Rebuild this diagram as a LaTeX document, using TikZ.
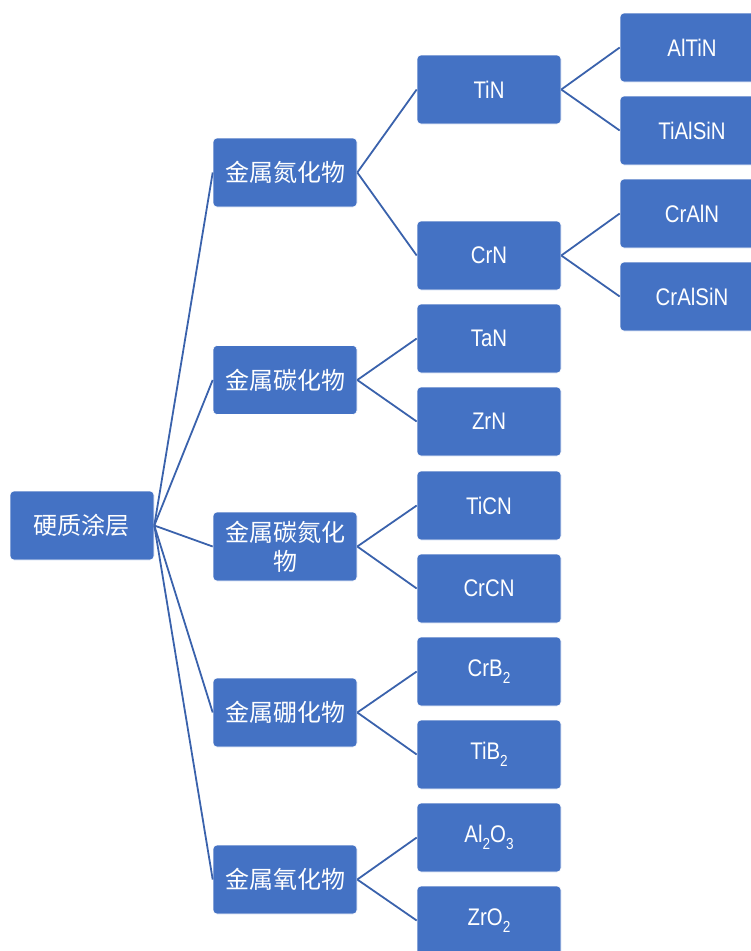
\documentclass[tikz,border=0pt]{standalone}
\usepackage{fontspec}
\setmainfont{Noto Sans CJK SC}
\newfontfamily\narrowfont[FakeStretch=0.85]{Liberation Sans}
\newcommand{\lowsub}[1]{\raisebox{-0.28em}{\fontsize{16}{16}\selectfont #1}}
\definecolor{boxblue}{HTML}{4472C4}
\definecolor{edgeblue}{HTML}{3A62AC}
\begin{document}
\begin{tikzpicture}[x=1pt,y=-1pt,
  boxnode/.style={fill=boxblue, draw=white, line width=0.6pt, rounded corners=4pt,
    minimum width=144pt, minimum height=69pt, inner sep=0pt, text=white,
    align=center, font=\fontsize{24}{29}\selectfont},
  latinnode/.style={boxnode, font=\fontsize{24}{29}\selectfont\narrowfont},
  link/.style={draw=edgeblue, line width=1.8pt}]
\useasboundingbox (0,0) rectangle (751,951);
% connectors first so that boxes cover their ends
\coordinate (rootE) at (154,525.5);
% level 0
\node[boxnode] (root) at (82,525.5) {硬质涂层};
% level 1
\node[boxnode] (n1) at (285,172.5) {金属氮化物};
\node[boxnode] (n2) at (285,380) {金属碳化物};
\node[boxnode] (n3) at (285,546.5) {金属碳氮化\\物};
\node[boxnode] (n4) at (285,712.5) {金属硼化物};
\node[boxnode] (n5) at (285,879.5) {金属氧化物};
% level 2
\node[latinnode] (tin) at (489,89.5) {TiN};
\node[latinnode] (crn) at (489,255.5) {CrN};
\node[latinnode] (tan) at (489,338.5) {TaN};
\node[latinnode] (zrn) at (489,421.5) {ZrN};
\node[latinnode] (ticn) at (489,505.5) {TiCN};
\node[latinnode] (crcn) at (489,588.5) {CrCN};
\node[latinnode] (crb) at (489,671.5) {CrB\lowsub{2}};
\node[latinnode] (tib) at (489,754.5) {TiB\lowsub{2}};
\node[latinnode] (alo) at (489,837.5) {Al\lowsub{2}O\lowsub{3}};
\node[latinnode] (zro) at (489,920.5) {ZrO\lowsub{2}};
% level 3
\node[latinnode] (altin) at (692,47.5) {AlTiN};
\node[latinnode] (tialsin) at (692,130.5) {TiAlSiN};
\node[latinnode] (cralN) at (692,213.5) {CrAlN};
\node[latinnode] (cralsin) at (692,296.5) {CrAlSiN};
% connectors
\foreach \t in {n1,n2,n3,n4,n5} \draw[link] (root.east) -- (\t.west);
\draw[link] (n1.east) -- (tin.west);
\draw[link] (n1.east) -- (crn.west);
\draw[link] (n2.east) -- (tan.west);
\draw[link] (n2.east) -- (zrn.west);
\draw[link] (n3.east) -- (ticn.west);
\draw[link] (n3.east) -- (crcn.west);
\draw[link] (n4.east) -- (crb.west);
\draw[link] (n4.east) -- (tib.west);
\draw[link] (n5.east) -- (alo.west);
\draw[link] (n5.east) -- (zro.west);
\draw[link] (tin.east) -- (altin.west);
\draw[link] (tin.east) -- (tialsin.west);
\draw[link] (crn.east) -- (cralN.west);
\draw[link] (crn.east) -- (cralsin.west);
\end{tikzpicture}
\end{document}
